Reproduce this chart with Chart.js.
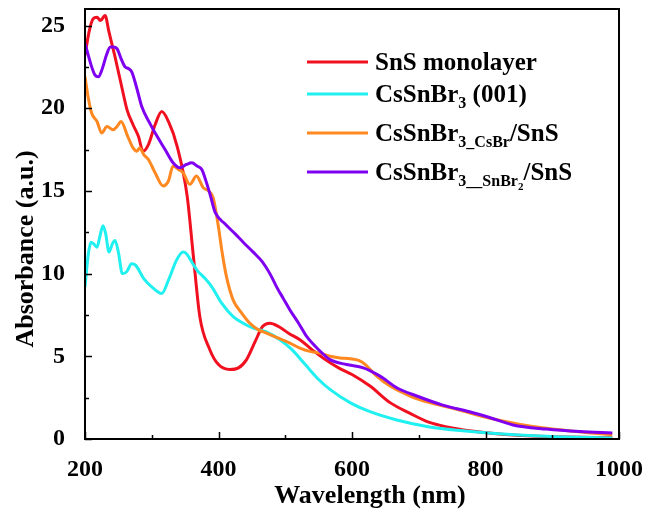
<!DOCTYPE html>
<html>
<head>
<meta charset="utf-8">
<script src="https://cdn.jsdelivr.net/npm/chart.js@4.4.1/dist/chart.umd.min.js"></script>
<style>
  html, body { margin: 0; padding: 0; background: #fff; }
  #wrap { width: 647px; height: 513px; }
</style>
</head>
<body>
<div id="wrap"><canvas id="absChart" width="647" height="513"></canvas></div>
<script>
// SnS monolayer
const snsX = [200, 206, 212, 218, 223, 230, 236, 245, 255, 263, 272, 280, 287, 295, 305, 315, 325, 338, 353, 362, 372, 387, 400, 417, 430, 442, 455, 466, 477, 490, 505, 522, 540, 560, 580, 600, 627, 657, 687, 716, 746, 776, 820, 870, 920, 990];
const snsY = [23.2, 24.6, 25.4, 25.5, 25.3, 25.6, 24.6, 23.1, 21.3, 19.9, 19.0, 18.3, 17.4, 17.8, 19.0, 19.8, 19.2, 17.7, 14.7, 11.2, 7.4, 5.4, 4.5, 4.2, 4.3, 4.8, 5.9, 6.8, 7.0, 6.8, 6.4, 6.0, 5.4, 4.8, 4.3, 3.9, 3.2, 2.2, 1.55, 1.0, 0.7, 0.5, 0.3, 0.18, 0.12, 0.08];

// CsSnBr3 (001)
const csX = [200, 205, 209, 213, 218, 222, 227, 231, 236, 241, 245, 250, 256, 262, 270, 276, 288, 300, 315, 325, 337, 347, 352, 360, 368, 380, 390, 405, 422, 437, 452, 470, 492, 510, 530, 550, 567, 597, 627, 667, 716, 766, 820, 880, 940, 990];
const csY = [9.2, 11.2, 11.9, 11.8, 11.6, 12.2, 12.9, 12.4, 11.3, 11.8, 12.0, 11.3, 10.0, 10.1, 10.6, 10.5, 9.7, 9.2, 8.8, 9.6, 10.8, 11.3, 11.2, 10.7, 10.2, 9.7, 9.2, 8.2, 7.4, 7.0, 6.7, 6.5, 6.0, 5.4, 4.5, 3.6, 3.0, 2.2, 1.65, 1.15, 0.73, 0.5, 0.32, 0.18, 0.1, 0.06];

// CsSnBr3_CsBr/SnS
const csbrX = [200, 205, 210, 218, 225, 233, 242, 248, 254, 264, 272, 278, 282, 288, 295, 305, 317, 325, 332, 340, 347, 357, 367, 377, 385, 392, 400, 405, 412, 422, 435, 447, 460, 472, 490, 507, 522, 537, 552, 567, 582, 597, 610, 620, 637, 657, 687, 716, 757, 802, 850, 900, 950, 990];
const csbrY = [21.9, 20.6, 19.7, 19.2, 18.5, 18.9, 18.7, 18.9, 19.2, 18.3, 17.6, 17.4, 17.6, 17.2, 16.9, 16.1, 15.3, 15.6, 16.5, 16.3, 16.1, 15.4, 15.9, 15.2, 15.0, 14.6, 12.8, 11.4, 9.8, 8.4, 7.6, 7.0, 6.6, 6.4, 6.1, 5.8, 5.5, 5.3, 5.2, 5.0, 4.9, 4.85, 4.75, 4.5, 3.8, 3.2, 2.6, 2.2, 1.8, 1.3, 0.9, 0.6, 0.4, 0.25];

// CsSnBr3_SnBr2/SnS
const snbrX = [200, 205, 210, 215, 220, 226, 232, 238, 242, 248, 254, 260, 265, 270, 277, 285, 297, 308, 320, 332, 342, 352, 360, 368, 375, 382, 388, 395, 410, 425, 437, 452, 466, 477, 487, 497, 507, 520, 532, 550, 567, 592, 617, 642, 667, 697, 736, 776, 806, 841, 891, 941, 990];
const snbrY = [23.9, 23.2, 22.5, 22.0, 21.9, 22.4, 23.2, 23.7, 23.7, 23.6, 23.0, 22.5, 22.4, 22.2, 21.3, 20.1, 19.1, 18.3, 17.5, 16.7, 16.4, 16.6, 16.7, 16.5, 16.3, 15.5, 14.7, 13.7, 13.0, 12.4, 11.9, 11.3, 10.7, 10.0, 9.2, 8.5, 7.8, 7.0, 6.2, 5.4, 4.8, 4.5, 4.3, 3.8, 3.1, 2.6, 2.05, 1.65, 1.3, 0.85, 0.6, 0.45, 0.37];

const xTicks = [200, 400, 600, 800, 1000];
const yTicks = [0, 5, 10, 15, 20, 25];

const seriesColors = ['#f01020', '#20f0f0', '#ff8820', '#7f00f0'];

// legend labels split into [text, level] pieces (0 normal, 1 subscript, 2 sub-subscript)
const legendLabels = [
    [['SnS monolayer', 0]],
    [['CsSnBr', 0], ['3', 1], [' (001)', 0]],
    [['CsSnBr', 0], ['3_CsBr', 1], ['/SnS', 0]],
    [['CsSnBr', 0], ['3__SnBr', 1], ['2', 2], ['/SnS', 0]]
];

const xTitle = 'Wavelength (nm)';
const yTitle = 'Absorbance (a.u.)';

const SERIF = "'Liberation Serif', 'Times New Roman', serif";

function pts(xs, ys) {
    return xs.map((x, i) => ({ x: x, y: ys[i] }));
}

const framePlugin = {
    id: 'framePlugin',
    afterDraw(chart) {
        const ctx = chart.ctx;
        const a = chart.chartArea;
        const sx = chart.scales.x;
        const sy = chart.scales.y;
        ctx.save();
        ctx.strokeStyle = '#000';
        ctx.lineWidth = 2;
        ctx.strokeRect(a.left, a.top, a.right - a.left, a.bottom - a.top);

        // ticks pointing into the plot
        ctx.lineWidth = 1.5;
        ctx.beginPath();
        for (let v = 200; v <= 1000; v += 100) {
            const px = Math.round(sx.getPixelForValue(v)) + 0.5;
            const len = v % 200 === 0 ? 7 : 4;
            ctx.moveTo(px, a.bottom);
            ctx.lineTo(px, a.bottom - len);
        }
        for (let v = 0; v <= 25; v += 2.5) {
            const py = Math.round(sy.getPixelForValue(v)) + 0.5;
            const len = v % 5 === 0 ? 7 : 4;
            ctx.moveTo(a.left, py);
            ctx.lineTo(a.left + len, py);
        }
        ctx.stroke();

        // axis titles
        ctx.fillStyle = '#000';
        ctx.font = 'bold 26px ' + SERIF;
        ctx.textAlign = 'center';
        ctx.textBaseline = 'alphabetic';
        ctx.fillText(xTitle, 370, 503);
        ctx.save();
        ctx.translate(33, 249);
        ctx.rotate(-Math.PI / 2);
        ctx.fillText(yTitle, 0, 0);
        ctx.restore();

        // legend
        const lineY = [62, 94, 133, 172];
        ctx.textAlign = 'left';
        chart.data.datasets.forEach((ds, i) => {
            const y = lineY[i];
            ctx.strokeStyle = ds.borderColor;
            ctx.lineWidth = 3;
            ctx.beginPath();
            ctx.moveTo(307, y);
            ctx.lineTo(368, y);
            ctx.stroke();
            let x = 375;
            const base = y + 8;
            legendLabels[i].forEach(([txt, lvl]) => {
                const size = lvl === 0 ? 25 : (lvl === 1 ? 16 : 11);
                const dy = lvl === 0 ? 0 : (lvl === 1 ? 6 : 10);
                ctx.font = 'bold ' + size + 'px ' + SERIF;
                ctx.fillStyle = '#000';
                ctx.fillText(txt, x, base + dy);
                x += ctx.measureText(txt).width;
            });
        });
        ctx.restore();
    }
};

const labels = legendLabels.map(parts => parts.map(p => p[0]).join(''));
const seriesData = [pts(snsX, snsY), pts(csX, csY), pts(csbrX, csbrY), pts(snbrX, snbrY)];

new Chart(document.getElementById('absChart'), {
    type: 'line',
    data: {
        datasets: seriesData.map((d, i) => ({
            label: labels[i],
            data: d,
            borderColor: seriesColors[i],
            backgroundColor: seriesColors[i],
            borderWidth: 3,
            pointRadius: 0,
            cubicInterpolationMode: 'monotone',
            fill: false,
            order: 3 - i
        }))
    },
    options: {
        responsive: false,
        animation: false,
        layout: { padding: { top: 9, right: 28, left: 0, bottom: 0 } },
        plugins: {
            legend: { display: false },
            tooltip: { enabled: false }
        },
        scales: {
            x: {
                type: 'linear',
                min: 200,
                max: 1000,
                grid: { display: false },
                border: { display: false },
                afterBuildTicks: s => { s.ticks = xTicks.map(v => ({ value: v })); },
                ticks: {
                    padding: 8,
                    color: '#000',
                    maxRotation: 0,
                    autoSkip: false,
                    callback: v => String(v),
                    font: { family: SERIF, size: 24, weight: 'bold' }
                },
                afterFit: s => {
                    s.height = 74;
                    s.paddingLeft = 0;
                    s.paddingRight = 0;
                }
            },
            y: {
                type: 'linear',
                min: 0,
                max: 26,
                grid: { display: false },
                border: { display: false },
                afterBuildTicks: s => { s.ticks = yTicks.map(v => ({ value: v })); },
                ticks: {
                    padding: 12,
                    color: '#000',
                    autoSkip: false,
                    callback: v => String(v),
                    font: { family: SERIF, size: 24, weight: 'bold' }
                },
                afterFit: s => {
                    s.width = 85;
                    s.paddingTop = 0;
                    s.paddingBottom = 0;
                }
            }
        }
    },
    plugins: [framePlugin]
});
</script>
</body>
</html>
